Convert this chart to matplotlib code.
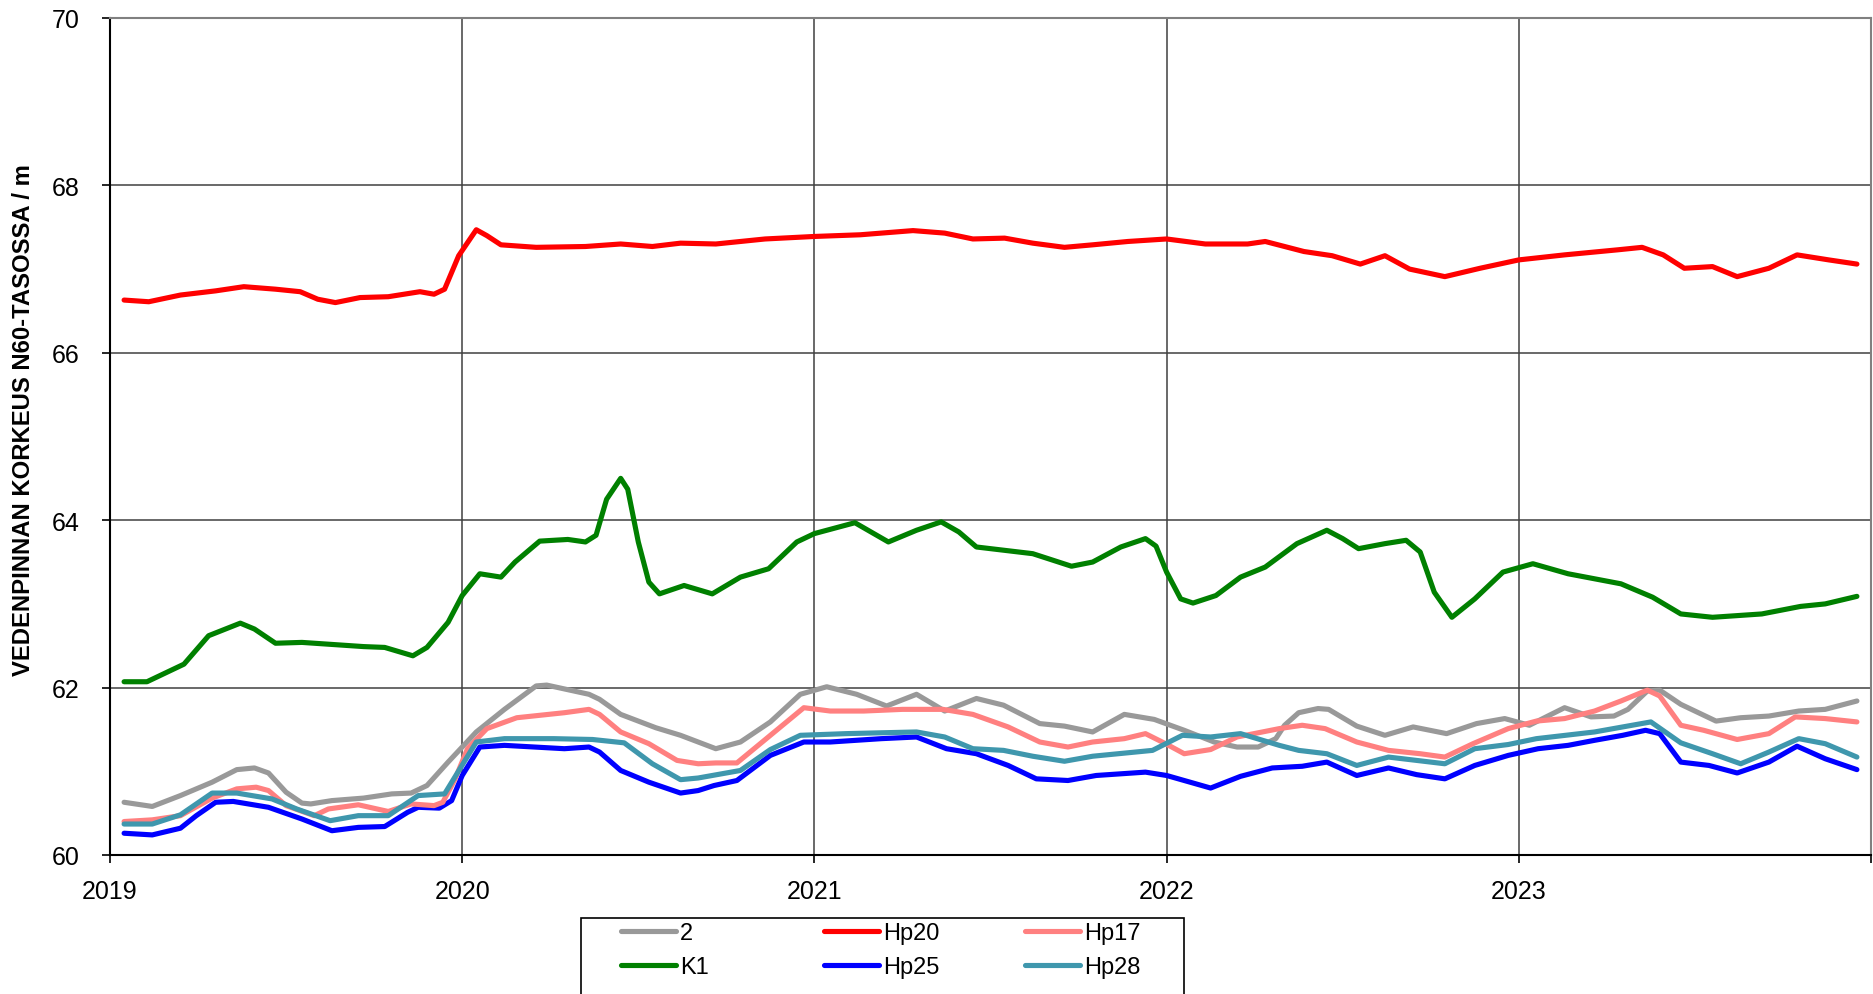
import matplotlib
matplotlib.use("Agg")
import matplotlib.pyplot as plt
from matplotlib.patches import Rectangle

plt.rcParams['font.family'] = ['Liberation Sans', 'DejaVu Sans']

# ---------------- data (decimal years, metres N60) ----------------
hp20_x = [2019.04, 2019.11, 2019.20, 2019.30, 2019.38, 2019.47, 2019.54, 2019.59, 2019.64, 2019.71,
          2019.79, 2019.88, 2019.92, 2019.95, 2019.99, 2020.04, 2020.07, 2020.11, 2020.21, 2020.35,
          2020.45, 2020.54, 2020.62, 2020.72, 2020.86, 2021.00, 2021.13, 2021.28, 2021.37, 2021.45,
          2021.54, 2021.62, 2021.71, 2021.79, 2021.89, 2022.00, 2022.11, 2022.23, 2022.28, 2022.39,
          2022.47, 2022.55, 2022.62, 2022.69, 2022.79, 2022.89, 2023.00, 2023.13, 2023.28, 2023.35,
          2023.41, 2023.47, 2023.55, 2023.62, 2023.71, 2023.79, 2023.88, 2023.96]
hp20_y = [66.63, 66.61, 66.69, 66.74, 66.79, 66.76, 66.73, 66.64, 66.60, 66.66,
          66.67, 66.73, 66.70, 66.76, 67.16, 67.47, 67.40, 67.29, 67.26, 67.27,
          67.30, 67.27, 67.31, 67.30, 67.36, 67.39, 67.41, 67.46, 67.43, 67.36,
          67.37, 67.31, 67.26, 67.29, 67.33, 67.36, 67.30, 67.30, 67.33, 67.21,
          67.16, 67.06, 67.16, 67.00, 66.91, 67.01, 67.11, 67.17, 67.23, 67.26,
          67.17, 67.01, 67.03, 66.91, 67.01, 67.17, 67.11, 67.06]

k1_x = [2019.04, 2019.105, 2019.21, 2019.28, 2019.37, 2019.41, 2019.47, 2019.545, 2019.72, 2019.78,
        2019.86, 2019.90, 2019.96, 2020.00, 2020.05, 2020.11, 2020.15, 2020.22, 2020.30, 2020.35,
        2020.38, 2020.41, 2020.45, 2020.47, 2020.50, 2020.53, 2020.56, 2020.63, 2020.71, 2020.79,
        2020.87, 2020.95, 2021.00, 2021.115, 2021.21, 2021.29, 2021.36, 2021.41, 2021.46, 2021.50,
        2021.62, 2021.73, 2021.79, 2021.87, 2021.94, 2021.97, 2022.00, 2022.04, 2022.075, 2022.14,
        2022.21, 2022.28, 2022.37, 2022.455, 2022.50, 2022.545, 2022.62, 2022.68, 2022.72, 2022.76,
        2022.81, 2022.875, 2022.955, 2023.04, 2023.14, 2023.29, 2023.38, 2023.46, 2023.55, 2023.69,
        2023.80, 2023.87, 2023.96]
k1_y = [62.07, 62.07, 62.28, 62.62, 62.77, 62.70, 62.53, 62.54, 62.49, 62.48,
        62.38, 62.48, 62.78, 63.10, 63.36, 63.32, 63.50, 63.75, 63.77, 63.74,
        63.82, 64.25, 64.50, 64.37, 63.74, 63.26, 63.12, 63.22, 63.12, 63.32,
        63.42, 63.74, 63.84, 63.97, 63.74, 63.88, 63.98, 63.86, 63.68, 63.66,
        63.60, 63.45, 63.50, 63.68, 63.78, 63.69, 63.38, 63.06, 63.01, 63.10,
        63.32, 63.44, 63.72, 63.88, 63.78, 63.66, 63.72, 63.76, 63.62, 63.14,
        62.84, 63.06, 63.38, 63.48, 63.36, 63.24, 63.08, 62.88, 62.84, 62.88,
        62.97, 63.00, 63.09]

p2_x = [2019.04, 2019.12, 2019.20, 2019.29, 2019.36, 2019.41, 2019.45, 2019.50, 2019.545, 2019.57,
        2019.63, 2019.72, 2019.80, 2019.855, 2019.90, 2019.96, 2020.04, 2020.12, 2020.21, 2020.24,
        2020.36, 2020.39, 2020.45, 2020.55, 2020.62, 2020.67, 2020.72, 2020.79, 2020.875, 2020.96,
        2021.035, 2021.12, 2021.205, 2021.29, 2021.37, 2021.46, 2021.537, 2021.64, 2021.71, 2021.79,
        2021.88, 2021.965, 2022.05, 2022.135, 2022.20, 2022.26, 2022.31, 2022.335, 2022.375, 2022.43,
        2022.46, 2022.54, 2022.62, 2022.70, 2022.795, 2022.88, 2022.96, 2023.03, 2023.13, 2023.205,
        2023.27, 2023.31, 2023.365, 2023.40, 2023.46, 2023.56, 2023.63, 2023.71, 2023.795, 2023.87,
        2023.96]
p2_y = [60.63, 60.58, 60.71, 60.87, 61.02, 61.04, 60.98, 60.75, 60.62, 60.61,
        60.65, 60.68, 60.73, 60.74, 60.83, 61.11, 61.47, 61.74, 62.02, 62.03,
        61.92, 61.86, 61.68, 61.52, 61.43, 61.35, 61.27, 61.35, 61.59, 61.92,
        62.01, 61.92, 61.78, 61.92, 61.72, 61.87, 61.79, 61.57, 61.54, 61.47,
        61.68, 61.62, 61.49, 61.35, 61.29, 61.29, 61.39, 61.55, 61.70, 61.75,
        61.74, 61.54, 61.43, 61.53, 61.45, 61.57, 61.63, 61.55, 61.76, 61.65,
        61.66, 61.74, 61.96, 61.97, 61.80, 61.60, 61.64, 61.66, 61.72, 61.74,
        61.84]

hp17_x = [2019.04, 2019.12, 2019.20, 2019.29, 2019.36, 2019.415, 2019.45, 2019.50, 2019.58, 2019.62,
          2019.705, 2019.79, 2019.855, 2019.92, 2019.945, 2019.98, 2020.015, 2020.07, 2020.155, 2020.29,
          2020.36, 2020.39, 2020.45, 2020.53, 2020.61, 2020.67, 2020.72, 2020.78, 2020.875, 2020.97,
          2021.045, 2021.14, 2021.25, 2021.365, 2021.45, 2021.55, 2021.64, 2021.72, 2021.79, 2021.88,
          2021.94, 2021.997, 2022.05, 2022.125, 2022.20, 2022.32, 2022.385, 2022.45, 2022.54, 2022.63,
          2022.72, 2022.79, 2022.87, 2022.97, 2023.05, 2023.13, 2023.215, 2023.29, 2023.365, 2023.40,
          2023.46, 2023.525, 2023.62, 2023.71, 2023.785, 2023.87, 2023.96]
hp17_y = [60.40, 60.42, 60.47, 60.68, 60.79, 60.81, 60.77, 60.59, 60.47, 60.55,
          60.60, 60.52, 60.61, 60.59, 60.63, 60.91, 61.27, 61.51, 61.64, 61.70,
          61.74, 61.68, 61.47, 61.33, 61.13, 61.09, 61.10, 61.10, 61.43, 61.76,
          61.72, 61.72, 61.74, 61.74, 61.68, 61.53, 61.35, 61.29, 61.35, 61.39,
          61.45, 61.33, 61.21, 61.26, 61.41, 61.51, 61.55, 61.51, 61.35, 61.25,
          61.21, 61.17, 61.33, 61.51, 61.60, 61.63, 61.72, 61.84, 61.97, 61.90,
          61.55, 61.49, 61.38, 61.45, 61.65, 61.63, 61.59]

hp25_x = [2019.04, 2019.12, 2019.20, 2019.245, 2019.30, 2019.35, 2019.45, 2019.545, 2019.63, 2019.705,
          2019.78, 2019.845, 2019.875, 2019.935, 2019.97, 2020.00, 2020.05, 2020.12, 2020.29, 2020.36,
          2020.39, 2020.45, 2020.53, 2020.62, 2020.67, 2020.715, 2020.78, 2020.875, 2020.97, 2021.045,
          2021.19, 2021.29, 2021.375, 2021.46, 2021.55, 2021.63, 2021.72, 2021.80, 2021.94, 2022.00,
          2022.125, 2022.21, 2022.30, 2022.385, 2022.455, 2022.54, 2022.63, 2022.71, 2022.79, 2022.875,
          2022.97, 2023.055, 2023.14, 2023.215, 2023.295, 2023.36, 2023.40, 2023.46, 2023.54, 2023.62,
          2023.71, 2023.79, 2023.87, 2023.96]
hp25_y = [60.26, 60.24, 60.32, 60.47, 60.63, 60.64, 60.57, 60.43, 60.29, 60.33,
          60.34, 60.51, 60.57, 60.56, 60.65, 60.95, 61.29, 61.31, 61.27, 61.29,
          61.23, 61.01, 60.87, 60.74, 60.77, 60.83, 60.89, 61.19, 61.35, 61.35,
          61.39, 61.41, 61.27, 61.21, 61.07, 60.91, 60.89, 60.95, 60.99, 60.95,
          60.80, 60.94, 61.04, 61.06, 61.11, 60.95, 61.04, 60.96, 60.91, 61.07,
          61.19, 61.27, 61.31, 61.37, 61.43, 61.49, 61.45, 61.11, 61.07, 60.98,
          61.11, 61.30, 61.15, 61.02]

hp28_x = [2019.04, 2019.12, 2019.20, 2019.29, 2019.36, 2019.46, 2019.53, 2019.625, 2019.705, 2019.79,
          2019.875, 2019.95, 2020.04, 2020.12, 2020.26, 2020.37, 2020.46, 2020.54, 2020.62, 2020.67,
          2020.79, 2020.875, 2020.96, 2021.09, 2021.29, 2021.37, 2021.45, 2021.537, 2021.62, 2021.71,
          2021.79, 2021.96, 2022.045, 2022.125, 2022.21, 2022.32, 2022.375, 2022.455, 2022.54, 2022.63,
          2022.79, 2022.875, 2022.97, 2023.05, 2023.215, 2023.375, 2023.46, 2023.55, 2023.63, 2023.71,
          2023.795, 2023.87, 2023.96]
hp28_y = [60.37, 60.37, 60.48, 60.74, 60.74, 60.67, 60.55, 60.41, 60.47, 60.47,
          60.71, 60.73, 61.35, 61.39, 61.39, 61.38, 61.34, 61.09, 60.90, 60.92,
          61.01, 61.26, 61.43, 61.45, 61.47, 61.41, 61.27, 61.25, 61.18, 61.12,
          61.18, 61.25, 61.43, 61.41, 61.45, 61.31, 61.25, 61.21, 61.07, 61.17,
          61.09, 61.27, 61.32, 61.39, 61.47, 61.59, 61.34, 61.21, 61.09, 61.23,
          61.39, 61.33, 61.17]

year_ticks = [2019, 2020, 2021, 2022, 2023, 2024]
year_labels = ['2019', '2020', '2021', '2022', '2023', '']
y_ticks = [60, 62, 64, 66, 68, 70]

# ---------------- figure ----------------
fig = plt.figure(figsize=(18.74, 9.95), dpi=100)
ax = fig.add_axes([110 / 1874, 1 - 856 / 995, (1871 - 110) / 1874, (856 - 19) / 995])

lw = 3.7
kw = dict(lw=lw, solid_capstyle='round', solid_joinstyle='round')
l2, = ax.plot(p2_x, p2_y, color='#999999', label='2', **kw)
l20, = ax.plot(hp20_x, hp20_y, color='#ff0000', label='Hp20', **kw)
lk1, = ax.plot(k1_x, k1_y, color='#008000', label='K1', **kw)
l25, = ax.plot(hp25_x, hp25_y, color='#0000ff', label='Hp25', **kw)
l17, = ax.plot(hp17_x, hp17_y, color='#ff8080', label='Hp17', **kw)
l28, = ax.plot(hp28_x, hp28_y, color='#3f97ad', label='Hp28', **kw)

ax.set_xlim(2019, 2024)
ax.set_ylim(60, 70)
ax.set_xticks(year_ticks)
ax.set_xticklabels(year_labels)
ax.set_yticks(y_ticks)
ax.grid(True, color='#404040', lw=1.1)
ax.set_axisbelow(True)
ax.tick_params(axis='x', direction='out', length=5.5, width=1.2, pad=12, labelsize=18)
ax.tick_params(axis='y', direction='out', length=6, width=1.2, pad=16, labelsize=18)
for s in ['left', 'bottom']:
    ax.spines[s].set_color('black')
    ax.spines[s].set_linewidth(1.5)
for s in ['top', 'right']:
    ax.spines[s].set_color('#808080')
    ax.spines[s].set_linewidth(1.5)

fig.text(24 / 1874, 1 - 420 / 995, 'VEDENPINNAN KORKEUS N60-TASOSSA / m', rotation=90,
         ha='center', va='center', fontsize=17.2, fontweight='bold')

# legend frame
fig.patches.append(Rectangle((581 / 1874, -0.05), (1184 - 581) / 1874, 0.05 + 1 - 919 / 995,
                             transform=fig.transFigure, facecolor='white', edgecolor='black',
                             lw=1.2, clip_on=False))
cols = [([l2, lk1], 621), ([l20, l25], 824), ([l17, l28], 1025)]
for handles, xpx in cols:
    leg = fig.legend(handles=handles, labels=[h.get_label() for h in handles],
                     loc='upper left', bbox_to_anchor=(xpx / 1874, 1 - 923 / 995),
                     frameon=False, fontsize=17, handlelength=2.33, handletextpad=0.17,
                     labelspacing=0.5, borderpad=0, borderaxespad=0)

fig.savefig('out.png', dpi=100)
